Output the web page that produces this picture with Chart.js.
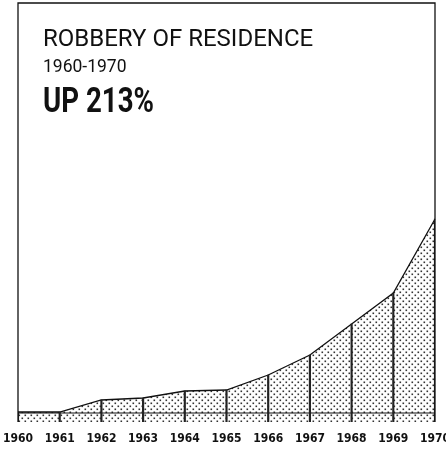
<!DOCTYPE html>
<html lang="en">
<head>
  <meta charset="utf-8">
  <title>Robbery of Residence</title>
  <script src="https://cdn.jsdelivr.net/npm/chart.js"></script>
  <style>
    html, body { margin: 0; padding: 0; background: #fff; overflow: hidden; }
    #wrap { position: relative; width: 446px; height: 449px; }
    .txt { position: absolute; color: #111; font-family: Roboto, "Liberation Sans", sans-serif; white-space: nowrap; }
    #t1 { left: 43px; top: 26px; font-size: 24px; line-height: 24px; }
    #t2 { left: 43px; top: 58px; font-size: 17.5px; line-height: 17.5px; }
    #t3 { left: 43px; top: 83px; font-size: 35px; line-height: 35px; font-weight: bold; transform: scaleX(0.79); transform-origin: left top; }
  </style>
</head>
<body>
<div id="wrap">
  <canvas id="myChart" width="446" height="449"></canvas>
  <div class="txt" id="t1">ROBBERY OF RESIDENCE</div>
  <div class="txt" id="t2">1960-1970</div>
  <div class="txt" id="t3">UP 213%</div>
</div>

<script>
  const years = ['1960', '1961', '1962', '1963', '1964', '1965', '1966', '1967', '1968', '1969', '1970'];
  // heights (arbitrary units)
  const robberies = [10, 10, 22, 24, 31, 32, 47, 67, 98, 129, 203];
  const baseLine = [9, 9, 9, 9, 9, 9, 9, 9, 9, 9, 9];
  const yMax = 419;

  // dotted screen like the printed original
  function dots() {
    const c = document.createElement('canvas');
    c.width = 6;
    c.height = 6;
    const g = c.getContext('2d');
    g.fillStyle = '#fff';
    g.fillRect(0, 0, 6, 6);
    g.fillStyle = '#333';
    g.fillRect(0.5, 0.5, 1.6, 1.6);
    g.fillRect(3.5, 3.5, 1.6, 1.6);
    return g.createPattern(c, 'repeat');
  }

  const frame = {
    id: 'frame',
    afterDatasetsDraw(chart) {
      const a = chart.chartArea;
      const ctx = chart.ctx;
      ctx.save();
      ctx.strokeStyle = '#111';
      ctx.lineWidth = 1.3;
      ctx.beginPath();
      ctx.moveTo(a.left, a.bottom);
      ctx.lineTo(a.left, a.top);
      ctx.lineTo(a.right, a.top);
      ctx.lineTo(a.right, a.bottom);
      ctx.stroke();
      ctx.restore();
    }
  };

  const ctx = document.getElementById('myChart');
  const chart = new Chart(ctx, {
    data: {
      labels: years,
      datasets: [{
        type: 'line',
        data: robberies,
        borderColor: '#111',
        borderWidth: 1.3,
        pointRadius: 0,
        tension: 0,
        fill: 'origin',
        backgroundColor: dots(),
        order: 3
      }, {
        type: 'line',
        data: baseLine,
        borderColor: '#111',
        borderWidth: 1.2,
        pointRadius: 0,
        fill: false,
        order: 2
      }, {
        type: 'bar',
        data: robberies,
        backgroundColor: '#222',
        barThickness: 1.5,
        order: 1
      }]
    },
    options: {
      responsive: false,
      animation: false,
      layout: { padding: { left: 18, right: 11, top: 3, bottom: 0 } },
      plugins: { legend: { display: false }, tooltip: { enabled: false } },
      scales: {
        x: {
          offset: false,
          grid: { display: false, drawTicks: false },
          border: { display: false },
          ticks: {
            color: '#111',
            padding: 10,
            maxRotation: 0,
            autoSkip: false,
            font: { family: 'DejaVu Sans Condensed', weight: 'bold', size: 12 }
          },
          // keep the plot edge-to-edge like the original, last label runs off the page
          afterFit(scale) {
            scale.paddingLeft = 0;
            scale.paddingRight = 0;
            scale.height = 27;
          }
        },
        y: { display: false, min: 0, max: yMax }
      }
    },
    plugins: [frame]
  });
</script>
</body>
</html>
